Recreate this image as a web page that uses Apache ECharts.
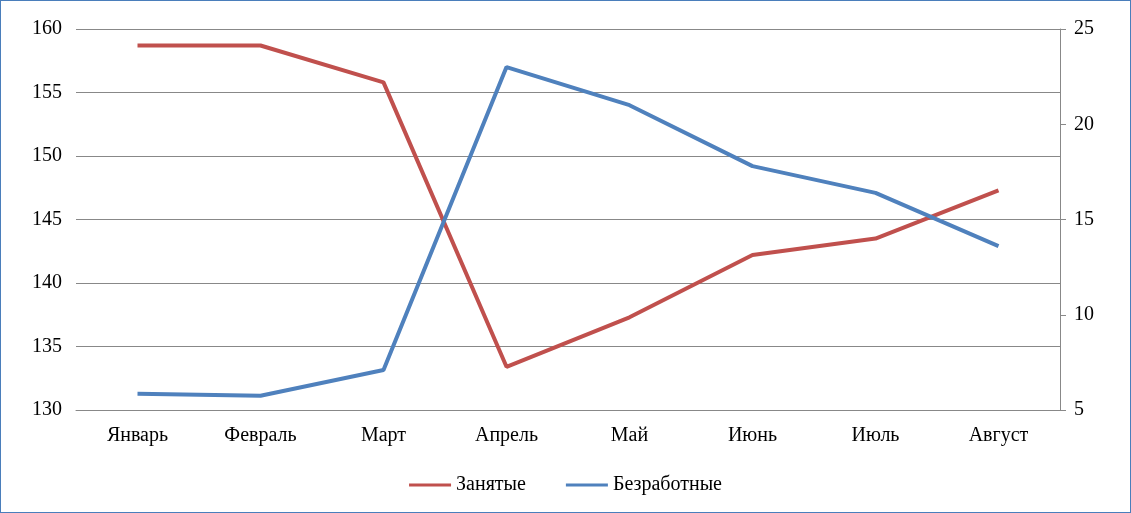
<!DOCTYPE html><html><head><meta charset="utf-8">
<script src="https://cdn.jsdelivr.net/npm/echarts@6/dist/echarts.min.js"></script>
<style>html,body{margin:0;padding:0;background:#fff}#c{width:1129px;height:511px;border:1px solid #4a7ebb}</style></head><body><div id="c"></div>
<script>
const categories=['Январь','Февраль','Март','Апрель','Май','Июнь','Июль','Август'];
const employed=[158.7,158.7,155.8,133.4,137.3,142.2,143.5,147.3];
const unemployed=[5.85,5.75,7.1,23.0,21.0,17.8,16.4,13.6];
const font='Liberation Serif';
const ch=echarts.init(document.getElementById('c'));
ch.setOption({
 textStyle:{fontFamily:font},
 grid:{left:75,right:70,top:28,bottom:102},
 legend:{bottom:12,itemWidth:42,itemHeight:3,itemGap:40,icon:'rect',textStyle:{fontFamily:font,fontSize:20,color:'#000'},data:['Занятые','Безработные']},
 xAxis:{type:'category',data:categories,boundaryGap:true,axisLine:{lineStyle:{color:'#888'}},axisTick:{show:false},axisLabel:{fontFamily:font,fontSize:20,color:'#000',margin:16}},
 yAxis:[
  {type:'value',min:130,max:160,interval:5,axisLine:{show:false},axisTick:{show:false},splitLine:{lineStyle:{color:'#888',width:1}},axisLabel:{fontFamily:font,fontSize:20,color:'#000',margin:14}},
  {type:'value',min:5,max:25,interval:5,position:'right',axisLine:{show:true,lineStyle:{color:'#888'}},axisTick:{show:true,length:6,inside:false,lineStyle:{color:'#888'}},splitLine:{show:false},axisLabel:{fontFamily:font,fontSize:20,color:'#000',margin:14}}
 ],
 series:[
  {name:'Занятые',type:'line',data:employed,yAxisIndex:0,symbol:'none',lineStyle:{color:'#c0504d',width:4},itemStyle:{color:'#c0504d'}},
  {name:'Безработные',type:'line',data:unemployed,yAxisIndex:1,symbol:'none',lineStyle:{color:'#4f81bd',width:4},itemStyle:{color:'#4f81bd'}}
 ]
});
</script></body></html>
